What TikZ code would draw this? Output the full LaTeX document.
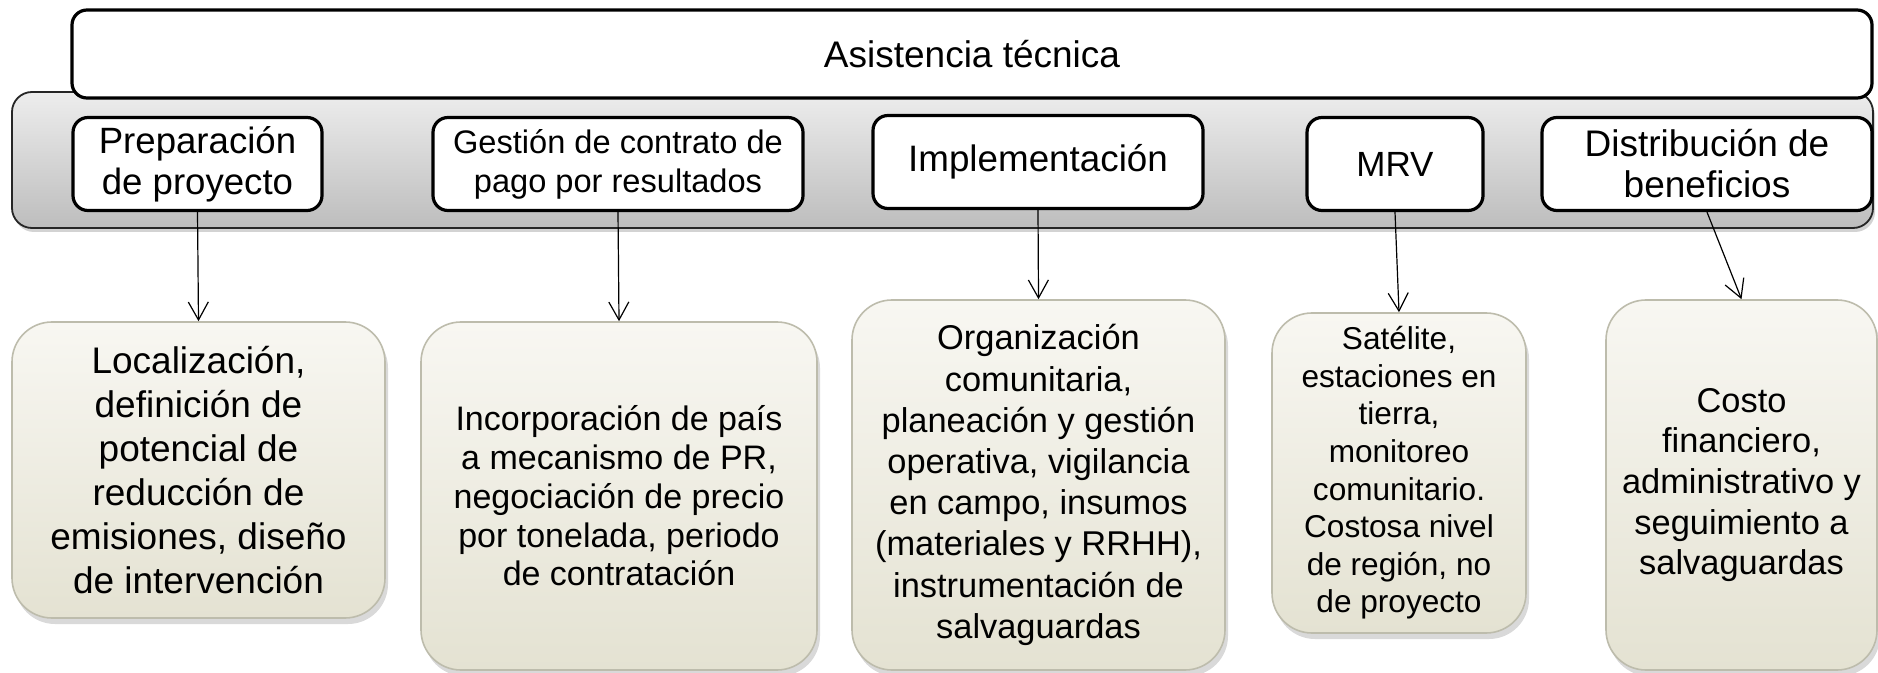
\documentclass[tikz,border=0pt]{standalone}
\usepackage{fontspec}
\setmainfont{Liberation Sans}
\usetikzlibrary{positioning, shadows, arrows.meta}
\definecolor{detailtop}{HTML}{F8F7F2}
\definecolor{detailbot}{HTML}{E4E2D2}
\definecolor{detailline}{HTML}{BDBCAC}
\definecolor{bandtop}{HTML}{EDEDED}
\definecolor{bandbot}{HTML}{BDBDBD}
\newcommand{\boxfont}[2]{\fontsize{#1}{#2}\selectfont}

\begin{document}
\begin{tikzpicture}[
        x = 0.5pt, y = -0.5pt,
        -{Straight Barb[length=9pt, width=10pt]},
        line width = 0.6pt,
        band/.style = {draw = black!85, line width = 0.9pt, rounded corners = 10pt,
          top color = bandtop, bottom color = bandbot,
          drop shadow = {shadow xshift = 1pt, shadow yshift = -2pt, opacity = 0.35}},
        head/.style = {draw, line width = 1.6pt, rounded corners = 7.5pt, fill = white},
        phase/.style = {head, align = center, minimum height = 46.5pt, inner sep = 0pt},
        detail/.style = {draw = detailline, line width = 0.8pt, rounded corners = 20pt,
          top color = detailtop, bottom color = detailbot, align = center, inner sep = 0pt,
          drop shadow = {shadow xshift = 1.5pt, shadow yshift = -3pt, opacity = 0.3}}]

      \useasboundingbox (0,0) rectangle (1878,673);

      %gray band behind the phases
      \node[band, minimum width = 930.5pt, minimum height = 68pt] (Band) at (942.5,160) {};

      %top bar
      \node[head, minimum width = 900pt, minimum height = 44pt,
        font = \boxfont{18.5}{22}] (Asistencia) at (972,54) {Asistencia técnica};

      %phases
      \node[phase, minimum width = 124.5pt, font = \boxfont{18.3}{20.5}]
        (PhasePrep) at (197.5,164) {Preparación\\de proyecto};
      \node[phase, minimum width = 185pt, font = \boxfont{16.3}{19.5}]
        (PhaseContract) at (618,164) {Gestión de contrato de\\pago por resultados};
      \node[phase, minimum width = 165pt, font = \boxfont{18.4}{20.5}]
        (PhaseImpl) at (1038,162) {Implementación};
      \node[phase, minimum width = 88pt, font = \boxfont{17.5}{20.5}]
        (PhaseMRV) at (1395,164) {MRV};
      \node[phase, minimum width = 165pt, font = \boxfont{18.5}{20.5}]
        (PhaseDist) at (1707,164) {Distribución de\\beneficios};

      %details
      \node[detail, minimum width = 186.5pt, minimum height = 148pt, font = \boxfont{18.5}{22}]
        (DetailPrep) at (198.5,470)
        {Localización,\\definición de\\potencial de\\reducción de\\emisiones, diseño\\de intervención};
      \node[detail, minimum width = 198pt, minimum height = 174pt, font = \boxfont{17}{19.4}]
        (DetailContract) at (619,496)
        {Incorporación de país\\a mecanismo de PR,\\negociación de precio\\por tonelada, periodo\\de contratación};
      \node[detail, minimum width = 186.5pt, minimum height = 185pt, font = \boxfont{17.2}{20.6}]
        (DetailImpl) at (1038.5,485)
        {Organización\\comunitaria,\\planeación y gestión\\operativa, vigilancia\\en campo, insumos\\(materiales y RRHH),\\instrumentación de\\salvaguardas};
      \node[detail, minimum width = 127pt, minimum height = 160pt, font = \boxfont{15.8}{18.8}]
        (DetailMRV) at (1399,473)
        {Satélite,\\estaciones en\\tierra,\\monitoreo\\comunitario.\\Costosa nivel\\de región, no\\de proyecto};
      \node[detail, minimum width = 135.5pt, minimum height = 185pt, font = \boxfont{17.2}{20.3}]
        (DetailDist) at (1741.5,485)
        {Costo\\financiero,\\administrativo y\\seguimiento a\\salvaguardas};

      %phase to detail
      \path
      (PhasePrep.south) edge (DetailPrep.north)
      (PhaseContract.south) edge (DetailContract.north)
      (PhaseImpl.south) edge (DetailImpl.north)
      (PhaseMRV.south) edge (DetailMRV.north)
      (PhaseDist.south) edge (DetailDist.north)
      ;
    \end{tikzpicture}
\end{document}
